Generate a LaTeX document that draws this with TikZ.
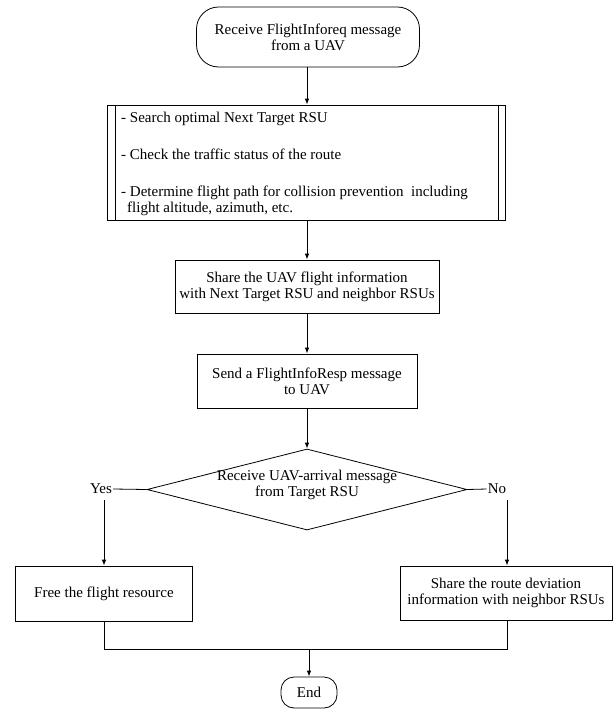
\documentclass[tikz,border=0pt]{standalone}
\usepackage{fontspec}
\setmainfont{Liberation Serif}
\usetikzlibrary{shapes.geometric,arrows.meta,calc}
\tikzset{
  base/.style={draw, line width=0.8pt, inner sep=0pt, font=\fontsize{15}{16}\selectfont, align=center},
  boxnode/.style={base, rectangle},
  termnode/.style={base, rectangle, rounded corners=22pt},
  endnode/.style={base, rectangle, rounded corners=13pt},
  decnode/.style={base, diamond},
  lbl/.style={inner sep=1pt, font=\fontsize{15}{16}\selectfont, align=center},
  conn/.style={line width=0.8pt},
  arr/.style={conn, -{Latex[length=6pt,width=4.5pt]}}
}
\begin{document}
\begin{tikzpicture}[x=1pt,y=-1pt]
\useasboundingbox (0,0) rectangle (613,709);
% nodes
\node[termnode, minimum width=223pt, minimum height=60pt] (start) at (308,37) {Receive FlightInforeq message\\from a UAV};
\node[boxnode, minimum width=398pt, minimum height=115pt] (proc) at (306.5,162.5) {};
\node[lbl, anchor=north west, align=left, inner sep=0pt] (proctext) at (121,111.5) {%
- Search optimal Next Target RSU\\[21pt]
- Check the traffic status of the route\\[21pt]
- Determine flight path for collision prevention\ \ including\\
\hspace*{6pt}flight altitude, azimuth, etc.};
\node[boxnode, minimum width=264pt, minimum height=53pt] (share) at (307,286.5) {Share the UAV flight information\\with Next Target RSU and neighbor RSUs};
\node[boxnode, minimum width=220pt, minimum height=54pt] (send) at (307,381) {Send a FlightInfoResp message\\to UAV};
\node[decnode, minimum width=320pt, minimum height=81pt] (dec) at (307,489.5) {};
\node[lbl] (dectext) at (307,485) {Receive UAV-arrival message\\from Target RSU};
\node[lbl] (yes) at (101,489) {Yes};
\node[lbl] (no) at (497,489) {No};
\node[boxnode, minimum width=177pt, minimum height=55pt] (free) at (104,593.5) {Free the flight resource};
\node[boxnode, minimum width=212pt, minimum height=54pt] (dev) at (506,593) {Share the route deviation\\information with neighbor RSUs};
\node[endnode, minimum width=56pt, minimum height=31pt] (end) at (309,692.5) {End};
% process box inner bars
\draw[conn] ($(proc.north west)+(8pt,0)$) -- ($(proc.south west)+(8pt,0)$);
\draw[conn] ($(proc.north east)+(-8pt,0)$) -- ($(proc.south east)+(-8pt,0)$);
% coordinates
\coordinate (ya) at (104,500);
\coordinate (na) at (507,500);
\coordinate (bus) at (309,649);
% connectors
\draw[arr] (start.south -| send) -- (proc.north -| send);
\draw[arr] (proc.south -| send) -- (share.north);
\draw[arr] (share.south) -- (send.north);
\draw[arr] (send.south) -- (dec.north);
\draw[conn] (dec.west) -- (yes.east);
\draw[conn] (dec.east) -- (no.west);
\draw[arr] (ya) -- (ya |- free.north);
\draw[arr] (na) -- (na |- dev.north);
\draw[conn] (free.south -| ya) -- (ya |- bus) -- (na |- bus) -- (na |- dev.south);
\draw[arr] (bus) -- (end.north);
\end{tikzpicture}
\end{document}
